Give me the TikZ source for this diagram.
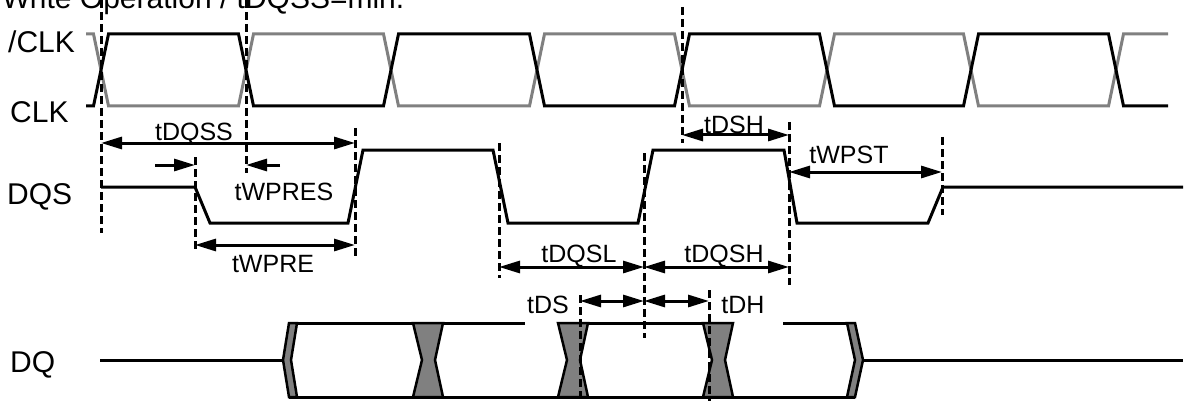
\documentclass[tikz,border=0pt]{standalone}
\usepackage{fontspec}
\setmainfont{Liberation Sans}
\usetikzlibrary{arrows.meta}

\begin{document}
\begin{tikzpicture}[x=1pt,y=-1pt,
        font=\fontsize{25}{30}\selectfont,
        sig/.style={line width=3pt,line join=miter},
        clkn/.style={sig,draw=gray},
        guide/.style={line width=3pt,dash pattern=on 8pt off 4pt},
        dim/.style={line width=3pt,>={Triangle[length=21pt,width=12pt]},<->},
        tip/.style={line width=3pt,>={Triangle[length=21pt,width=12pt]},->},
        lbl/.style={anchor=base,inner sep=0pt},
        signame/.style={anchor=base west,inner sep=0pt,font=\fontsize{30}{36}\selectfont},
        xband/.style={line width=2.5pt,draw=black,fill=gray}]
        \useasboundingbox (0,0) rectangle (1188,401);
        \clip (0,0) rectangle (1188,401);
        % clocks
        \draw[clkn] (86,34) \foreach \c/\a/\b in {101/34/106,246/106/34,391/34/106,537/106/34,682/34/106,827/106/34,971/34/106,1116/106/34}{-- (\c-7.5,\a) -- (\c+7.5,\b)} -- (1168,34);
        \draw[sig] (86,106) \foreach \c/\a/\b in {101/106/34,246/34/106,391/106/34,537/34/106,682/106/34,827/34/106,971/106/34,1116/34/106}{-- (\c-7.5,\a) -- (\c+7.5,\b)} -- (1168,106);
        % DQS
        \draw[sig] (101,187) -- (195,187) -- (210,223) -- (348,223) -- (363,150) -- (493,150) -- (508,223) -- (638,223) -- (653,150) -- (784,150) -- (797,223) -- (928,223) -- (943,187) -- (1183,187);
        % DQ
        \draw[sig] (100,360) -- (283,360) (863,360) -- (1183,360);
        \draw[sig] (289,323) -- (525,323) (558,323) -- (720,323) (783,323) -- (855,323);
        \draw[sig] (289,397) -- (855,397);
        \foreach \c in {428,573,718}
            \draw[xband] (\c-15,323) -- (\c+15,323) -- (\c+7,360) -- (\c+15,397) -- (\c-15,397) -- (\c-6,360) -- cycle;
        \draw[xband] (289,323) -- (297,323) -- (291,360) -- (297,397) -- (289,397) -- (283,360) -- cycle;
        \draw[xband] (847,323) -- (855,323) -- (863,360) -- (855,397) -- (847,397) -- (855,360) -- cycle;
        % guides
        \draw[guide] (101,0) -- (101,233);
        \draw[guide] (246,0) -- (246,173);
        \draw[guide] (682,7) -- (682,143);
        \draw[guide] (195,157) -- (195,250);
        \draw[guide] (355,128) -- (355,258);
        \draw[guide] (499,143) -- (499,278);
        \draw[guide] (644,153) -- (644,338);
        \draw[guide] (789,122) -- (789,285);
        \draw[guide] (942,137) -- (942,215);
        \draw[guide] (580,295) -- (580,401);
        \draw[guide] (709,290) -- (709,401);
        % labels
        \node[signame] (title) at (2,9) {Write Operation / tDQSS=min.};
        \node[signame] (clkbarlbl) at (8,53) {/CLK};
        \node[signame] (clklbl) at (10,123) {CLK};
        \node[signame] (dqslbl) at (7,204) {DQS};
        \node[signame] (dqlbl) at (10,372) {DQ};
        \node[lbl] (tdqss) at (194,140) {tDQSS};
        \node[lbl] (twpres) at (284,200) {tWPRES};
        \node[lbl] (twpre) at (273,272) {tWPRE};
        \node[lbl] (tdqsl) at (579,262) {tDQSL};
        \node[lbl] (tdqsh) at (724,262) {tDQSH};
        \node[lbl] (tdsh) at (734,134) {tDSH};
        \node[lbl] (twpst) at (849,163) {tWPST};
        \node[lbl] (tds) at (548,313) {tDS};
        \node[lbl] (tdh) at (743,313) {tDH};
        % timing arrows
        \draw[dim] (101,143) -- (355,143);
        \draw[tip] (155,165) -- (195,165);
        \draw[tip] (280,165) -- (246,165);
        \draw[dim] (195,245) -- (355,245);
        \draw[dim] (499,267) -- (644,267);
        \draw[dim] (644,267) -- (789,267);
        \draw[dim] (682,135) -- (789,135);
        \draw[dim] (789,172) -- (942,172);
        \draw[dim] (580,301) -- (644,301);
        \draw[dim] (644,301) -- (709,301);
\end{tikzpicture}
\end{document}
